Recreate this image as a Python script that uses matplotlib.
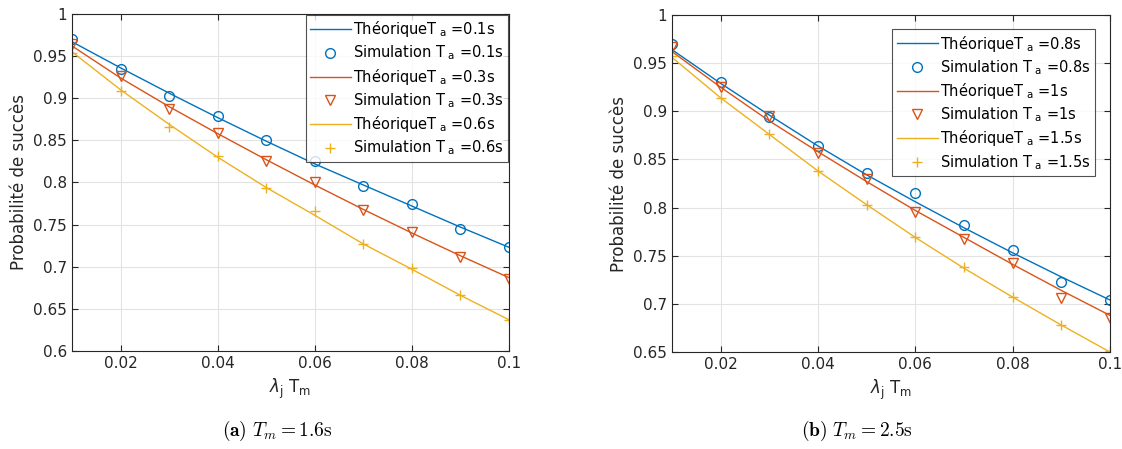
import matplotlib
matplotlib.use("Agg")
import matplotlib.pyplot as plt

plt.rcParams["mathtext.fontset"] = "dejavusans"

BLUE, RED, YEL = "#0072BD", "#D95319", "#EDB120"

x = [0.01, 0.02, 0.03, 0.04, 0.05, 0.06, 0.07, 0.08, 0.09, 0.10]

# panel (a) Tm = 1.6 s
ta_a = ["0.1", "0.3", "0.6"]
th_a = [
    [0.967, 0.936, 0.906, 0.877, 0.849, 0.822, 0.797, 0.772, 0.747, 0.723],
    [0.962, 0.924, 0.890, 0.858, 0.827, 0.797, 0.768, 0.740, 0.713, 0.687],
    [0.955, 0.910, 0.869, 0.830, 0.794, 0.761, 0.727, 0.697, 0.666, 0.637],
]
sim_a = [
    [0.970, 0.935, 0.903, 0.879, 0.850, 0.825, 0.796, 0.774, 0.745, 0.723],
    [0.964, 0.926, 0.887, 0.859, 0.826, 0.800, 0.767, 0.741, 0.712, 0.686],
    [0.954, 0.909, 0.866, 0.831, 0.794, 0.766, 0.727, 0.699, 0.666, 0.637],
]

# panel (b) Tm = 2.5 s
ta_b = ["0.8", "1", "1.5"]
th_b = [
    [0.964, 0.929, 0.896, 0.864, 0.834, 0.806, 0.779, 0.753, 0.728, 0.704],
    [0.962, 0.925, 0.890, 0.858, 0.827, 0.797, 0.769, 0.741, 0.714, 0.688],
    [0.956, 0.914, 0.876, 0.838, 0.803, 0.769, 0.737, 0.707, 0.678, 0.650],
]
sim_b = [
    [0.970, 0.930, 0.894, 0.864, 0.836, 0.815, 0.782, 0.756, 0.723, 0.704],
    [0.967, 0.925, 0.895, 0.857, 0.830, 0.795, 0.767, 0.742, 0.706, 0.685],
    [0.957, 0.914, 0.876, 0.838, 0.803, 0.769, 0.738, 0.707, 0.678, 0.651],
]

colors = [BLUE, RED, YEL]
markers = ["o", "v", "+"]

fig = plt.figure(figsize=(11.22, 4.49), dpi=100)
axA = fig.add_axes([0.0642, 0.2183, 0.3895, 0.7506])
axB = fig.add_axes([0.5989, 0.2160, 0.3904, 0.7506])


def panel(ax, th, sim, ta, ylim, yticks, leg_anchor, tag, tm, cx):
    for t, s, c, m, v in zip(th, sim, colors, markers, ta):
        ax.plot(x, t, color=c, lw=1.0, label=rf"ThéoriqueT$_{{\ \mathrm{{a}}}}$ ={v}s")
        ax.plot(x, s, ls="none", marker=m, ms=7, mfc="none", mec=c, mew=1.0,
                label=rf"Simulation T$_{{\ \mathrm{{a}}}}$ ={v}s")
    ax.set_xlim(0.01, 0.1)
    ax.set_ylim(*ylim)
    ax.set_xticks([0.02, 0.04, 0.06, 0.08, 0.1])
    ax.set_xticklabels(["0.02", "0.04", "0.06", "0.08", "0.1"])
    ax.set_yticks(yticks)
    ax.set_yticklabels([f"{v:g}" for v in yticks])
    ax.grid(True, color="#e3e3e3", lw=0.8)
    ax.set_axisbelow(True)
    ax.tick_params(direction="in", top=True, right=True, labelsize=11,
                   length=4, color="#262626", labelcolor="#262626")
    for sp in ax.spines.values():
        sp.set_color("#262626")
        sp.set_linewidth(0.8)
    ax.set_ylabel("Probabilité de succès", fontsize=12, color="#262626")
    ax.set_xlabel(r"$\lambda_{\mathrm{j}}$ T$_{\mathrm{m}}$", fontsize=12, color="#262626")
    leg = ax.legend(loc="upper right", bbox_to_anchor=leg_anchor, fontsize=10.5,
                    frameon=True, fancybox=False, edgecolor="#262626",
                    handlelength=2.8, handletextpad=0.15, labelspacing=0.3,
                    borderaxespad=0, borderpad=0.3)
    leg.get_frame().set_linewidth(0.8)
    fig.text(cx, 0.04, rf"$\mathbf{{({tag})}}\ T_m = {tm}\mathrm{{s}}$",
             ha="center", va="center", fontsize=14, math_fontfamily="cm")


panel(axA, th_a, sim_a, ta_a, (0.6, 1.0),
      [0.6, 0.65, 0.7, 0.75, 0.8, 0.85, 0.9, 0.95, 1.0], (0.998, 0.997), "a", "1.6", 0.247)
panel(axB, th_b, sim_b, ta_b, (0.65, 1.0),
      [0.65, 0.7, 0.75, 0.8, 0.85, 0.9, 0.95, 1.0], (0.966, 0.958), "b", "2.5", 0.764)

fig.savefig("out.png", dpi=100)
